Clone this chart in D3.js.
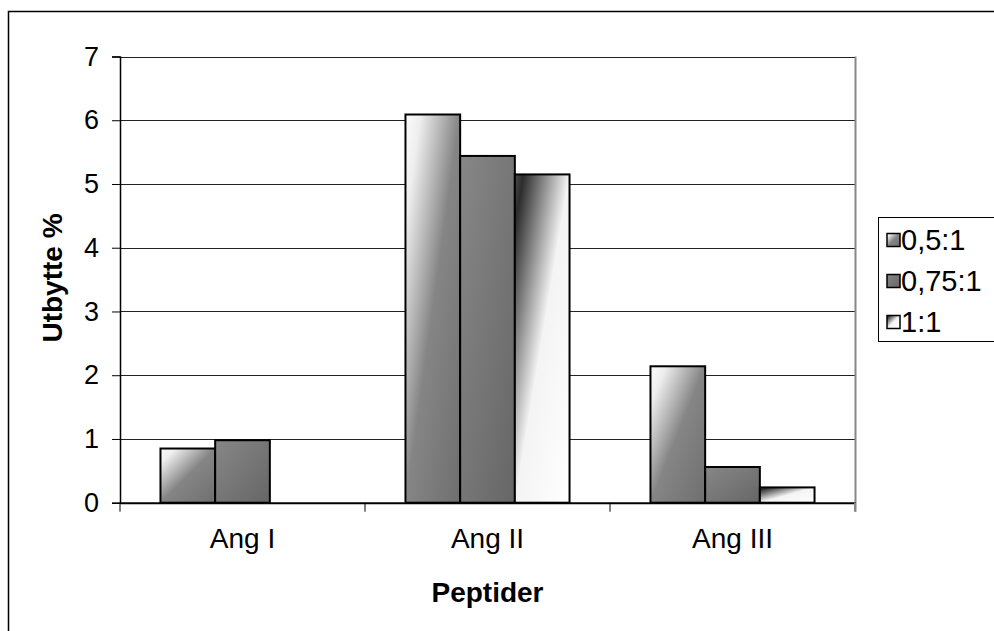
<!DOCTYPE html>
<html>
<head>
<meta charset="utf-8">
<script src="https://cdn.jsdelivr.net/npm/d3@7"></script>
<style>
  body { margin: 0; background: #fff; }
  svg { display: block; font-family: Arial, 'Liberation Sans', sans-serif; }
</style>
</head>
<body>
<div class="chart-container"></div>
<script>
const width = 994;
const height = 631;

const categories = ['Ang I', 'Ang II', 'Ang III'];
const seriesNames = ['0,5:1', '0,75:1', '1:1'];
const values05 = [0.85, 6.09, 2.14];
const values075 = [0.98, 5.44, 0.56];
const values1 = [0, 5.15, 0.24];
const yTicks = [0, 1, 2, 3, 4, 5, 6, 7];

const series = [values05, values075, values1];

const plot = { left: 120, right: 855, top: 56.5, bottom: 502.7 };

const svg = d3.select('.chart-container').append('svg')
  .attr('xmlns', 'http://www.w3.org/2000/svg')
  .attr('width', width)
  .attr('height', height);

// gradients, one per series
const defs = svg.append('defs');
const gradStops = [
  [[0, '#fbfbfb'], [0.14, '#eeeeee'], [0.5, '#858585'], [1, '#6f6f6f']],
  [[0, '#878787'], [1, '#666666']],
  [[0, '#4a4a4a'], [0.08, '#2c2c2c'], [0.5, '#f4f4f4'], [1, '#ffffff']]
];
gradStops.forEach((stops, i) => {
  const g = defs.append('linearGradient')
    .attr('id', 'grad' + i)
    .attr('x1', 0).attr('y1', 0).attr('x2', 1).attr('y2', 1);
  stops.forEach((s) => {
    g.append('stop').attr('offset', s[0]).attr('stop-color', s[1]);
  });
});

// outer frame
svg.append('rect')
  .attr('x', 8.5).attr('y', 11.5)
  .attr('width', 1000).attr('height', 700)
  .attr('fill', 'none').attr('stroke', '#000').attr('stroke-width', 1.5);

const scaleY = d3.scaleLinear()
  .domain([0, 7])
  .range([plot.bottom, plot.top]);

const scaleX = d3.scaleBand()
  .domain(categories)
  .range([plot.left, plot.right])
  .padding(0);

const scaleInner = d3.scaleBand()
  .domain(d3.range(series.length))
  .range([0, scaleX.bandwidth()])
  .paddingInner(0)
  .paddingOuter(0.74);

// gridlines
svg.append('g')
  .selectAll('line')
  .data(yTicks.filter((d) => d > 0))
  .join('line')
  .attr('x1', plot.left).attr('x2', plot.right)
  .attr('y1', (d) => Math.round(scaleY(d)) + 0.5)
  .attr('y2', (d) => Math.round(scaleY(d)) + 0.5)
  .attr('stroke', '#222').attr('stroke-width', 1);

// right border of plot area
svg.append('line')
  .attr('x1', plot.right + 0.5).attr('x2', plot.right + 0.5)
  .attr('y1', plot.top).attr('y2', plot.bottom + 9)
  .attr('stroke', '#888').attr('stroke-width', 2);

// bars
const groups = svg.append('g')
  .selectAll('g')
  .data(series)
  .join('g')
  .attr('fill', (d, i) => 'url(#grad' + i + ')');

groups.selectAll('rect')
  .data((d, i) => d.map((v, j) => ({ value: v, cat: categories[j], s: i })))
  .join('rect')
  .filter((d) => d.value > 0)
  .attr('x', (d) => scaleX(d.cat) + scaleInner(d.s))
  .attr('y', (d) => scaleY(d.value))
  .attr('width', scaleInner.bandwidth())
  .attr('height', (d) => scaleY(0) - scaleY(d.value))
  .attr('stroke', '#000')
  .attr('stroke-width', 2);

// y axis
const yAxis = svg.append('g')
  .attr('transform', 'translate(' + plot.left + ',0)')
  .call(d3.axisLeft(scaleY).tickValues(yTicks).tickSize(8).tickPadding(13).tickFormat(d3.format('d')));
yAxis.select('.domain').attr('stroke', '#000').attr('stroke-width', 1.5);
yAxis.selectAll('.tick line').attr('stroke', '#000');
yAxis.selectAll('.tick text')
  .attr('font-size', 27).attr('fill', '#000')
  .attr('font-family', 'Arial, Liberation Sans, sans-serif');

// x axis
const xAxis = svg.append('g')
  .attr('transform', 'translate(0,' + plot.bottom + ')')
  .call(d3.axisBottom(scaleX).tickSize(0).tickPadding(25));
xAxis.select('.domain').attr('stroke', '#000').attr('stroke-width', 2);
xAxis.selectAll('.tick text')
  .attr('font-size', 28).attr('fill', '#000')
  .attr('font-family', 'Arial, Liberation Sans, sans-serif');

// category boundary ticks
svg.append('g')
  .selectAll('line')
  .data(categories.concat(['end']))
  .join('line')
  .attr('x1', (d, i) => plot.left + i * scaleX.step())
  .attr('x2', (d, i) => plot.left + i * scaleX.step())
  .attr('y1', plot.bottom).attr('y2', plot.bottom + 9)
  .attr('stroke', (d, i) => i === 3 ? '#888' : '#000')
  .attr('stroke-width', (d, i) => i === 3 ? 2 : 1);

// axis titles
svg.append('text')
  .attr('x', (plot.left + plot.right) / 2)
  .attr('y', 602)
  .attr('text-anchor', 'middle')
  .attr('font-size', 28).attr('font-weight', 'bold')
  .text('Peptider');

svg.append('text')
  .attr('transform', 'translate(62,278) rotate(-90)')
  .attr('text-anchor', 'middle')
  .attr('font-size', 28).attr('font-weight', 'bold')
  .text('Utbytte %');

// legend
const legend = svg.append('g');
legend.append('rect')
  .attr('x', 878.5).attr('y', 217.5)
  .attr('width', 130).attr('height', 124)
  .attr('fill', '#fff').attr('stroke', '#000').attr('stroke-width', 1);

const legendRows = legend.selectAll('g.row')
  .data(seriesNames)
  .join('g')
  .attr('class', 'row')
  .attr('transform', (d, i) => 'translate(0,' + (240 + i * 41) + ')');

legendRows.append('rect')
  .attr('x', 887).attr('y', -6.5)
  .attr('width', 13).attr('height', 13)
  .attr('fill', (d, i) => 'url(#grad' + i + ')')
  .attr('stroke', '#000').attr('stroke-width', 1.5);

legendRows.append('text')
  .attr('x', 901).attr('y', 0)
  .attr('dy', '0.36em')
  .attr('font-size', 29)
  .text((d) => d);
</script>
</body>
</html>
